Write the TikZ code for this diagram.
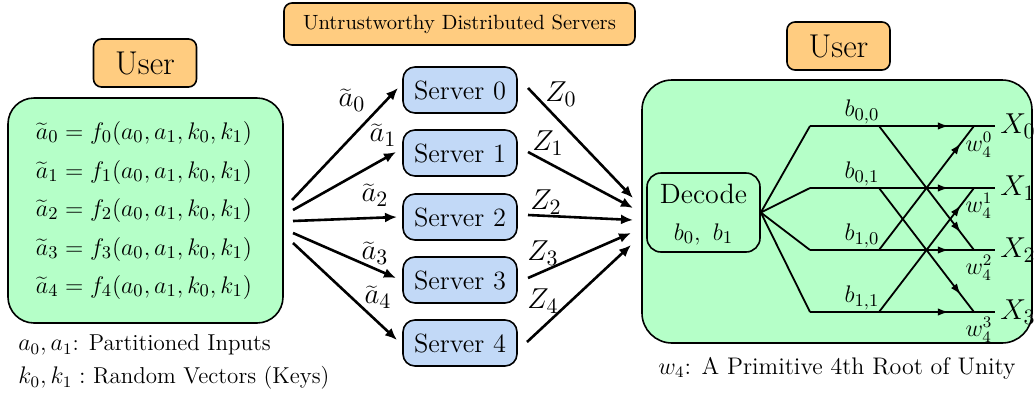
\documentclass[tikz,border=0pt]{standalone}
\usetikzlibrary{arrows.meta,decorations.markings}
\definecolor{uorange}{HTML}{FFCC80}
\definecolor{ugreen}{HTML}{B5FFC8}
\definecolor{ublue}{HTML}{C2D9F7}
\begin{document}
\begin{tikzpicture}[x=0.5pt,y=-0.5pt,
  userbox/.style={draw, fill=uorange, rounded corners=4pt, line width=0.8pt, minimum width=51.5pt, minimum height=24pt, inner sep=0pt, font=\fontsize{16.5}{19}\selectfont},
  titlebox/.style={draw, fill=uorange, rounded corners=4pt, line width=0.8pt, minimum width=175.5pt, minimum height=21pt, inner sep=0pt, font=\fontsize{10.3}{12}\selectfont},
  greenbox/.style={draw, fill=ugreen, line width=0.8pt, inner sep=0pt},
  srvbox/.style={draw, fill=ublue, rounded corners=6pt, line width=0.8pt, minimum width=57pt, minimum height=23pt, inner sep=0pt, font=\fontsize{13.2}{15}\selectfont},
  eqtext/.style={font=\fontsize{13}{15}\selectfont, inner sep=0pt},
  lbl/.style={font=\fontsize{13}{15}\selectfont, inner sep=0pt},
  biglbl/.style={font=\fontsize{15.5}{18}\selectfont, inner sep=0pt},
  note/.style={font=\fontsize{11.5}{14}\selectfont, inner sep=0pt},
  arr/.style={-{Latex[length=6pt,width=5pt]}, line width=1.3pt},
  bline/.style={line width=0.9pt},
  midarrow/.style={postaction={decorate}, decoration={markings, mark=at position #1 with {\arrow{Latex[length=5.5pt,width=3.8pt]}}}}
]
\useasboundingbox (0,0) rectangle (1035,398);

% left user side
\node[userbox] (user1) at (145,63) {User};
\node[greenbox, rounded corners=13pt, minimum width=137.5pt, minimum height=112.5pt] (inbox) at (145.5,210.5) {};
\node[eqtext] (eq0) at (144,133) {$\widetilde{a}_0 = f_0(a_0,a_1,k_0,k_1)$};
\node[eqtext] (eq1) at (144,172) {$\widetilde{a}_1 = f_1(a_0,a_1,k_0,k_1)$};
\node[eqtext] (eq2) at (144,210) {$\widetilde{a}_2 = f_2(a_0,a_1,k_0,k_1)$};
\node[eqtext] (eq3) at (144,249) {$\widetilde{a}_3 = f_3(a_0,a_1,k_0,k_1)$};
\node[eqtext] (eq4) at (144,287) {$\widetilde{a}_4 = f_4(a_0,a_1,k_0,k_1)$};
\node[note, anchor=west] (n1) at (18,345) {$a_0,a_1$: Partitioned Inputs};
\node[note, anchor=west] (n2) at (18,378) {$k_0,k_1:$ Random Vectors (Keys)};

% servers
\node[titlebox] (title) at (459.5,24) {Untrustworthy Distributed Servers};
\node[srvbox] (srv0) at (460,90) {Server 0};
\node[srvbox] (srv1) at (460,153) {Server 1};
\node[srvbox] (srv2) at (460,217) {Server 2};
\node[srvbox] (srv3) at (460,280) {Server 3};
\node[srvbox] (srv4) at (460,343) {Server 4};

\coordinate (s0) at (292,200);
\coordinate (s1) at (293,210);
\coordinate (s2) at (293,221);
\coordinate (s3) at (293,233);
\coordinate (s4) at (293,243);
\coordinate (t0) at (398,88);
\coordinate (t1) at (396,152);
\coordinate (t2) at (397,217);
\coordinate (t3) at (396,278);
\coordinate (t4) at (397,340);
\draw[arr] (s0) -- (t0);
\draw[arr] (s1) -- (t1);
\draw[arr] (s2) -- (t2);
\draw[arr] (s3) -- (t3);
\draw[arr] (s4) -- (t4);
\node[biglbl] (la0) at (352,100) {$\widetilde{a}_0$};
\node[biglbl] (la1) at (383,135) {$\widetilde{a}_1$};
\node[biglbl] (la2) at (375,195) {$\widetilde{a}_2$};
\node[biglbl] (la3) at (375,253) {$\widetilde{a}_3$};
\node[biglbl] (la4) at (378,297) {$\widetilde{a}_4$};

\coordinate (z0) at (528,88);
\coordinate (z1) at (528,152);
\coordinate (z2) at (528,215);
\coordinate (z3) at (528,278);
\coordinate (z4) at (527,342);
\coordinate (e0) at (633,198);
\coordinate (e1) at (633,208);
\coordinate (e2) at (633,220);
\coordinate (e3) at (631,233);
\coordinate (e4) at (631,245);
\draw[arr] (z0) -- (e0);
\draw[arr] (z1) -- (e1);
\draw[arr] (z2) -- (e2);
\draw[arr] (z3) -- (e3);
\draw[arr] (z4) -- (e4);
\node[biglbl] (lz0) at (561,94) {$Z_0$};
\node[biglbl] (lz1) at (548,143) {$Z_1$};
\node[biglbl] (lz2) at (546,202) {$Z_2$};
\node[biglbl] (lz3) at (543,253) {$Z_3$};
\node[biglbl] (lz4) at (543,301) {$Z_4$};

% right user side
\node[userbox] (user2) at (838.5,46) {User};
\node[greenbox, rounded corners=15pt, minimum width=195pt, minimum height=131.5pt] (outbox) at (837,211.5) {};
\node[draw, fill=ugreen, rounded corners=7pt, line width=0.8pt, minimum width=56.5pt, minimum height=39.5pt, inner sep=0pt] (dec) at (703.5,212.5) {};
\node[font=\fontsize{14}{16}\selectfont, inner sep=0pt] (dect) at (703.5,194) {Decode};
\node[lbl] (decb) at (703.5,234) {$b_0,\ b_1$};

\foreach \i/\y in {0/126,1/188,2/250,3/312}{
  \coordinate (L\i) at (810,\y);
  \coordinate (C\i) at (879,\y);
  \coordinate (E\i) at (974,\y);
  \coordinate (R\i) at (995,\y);
}
\foreach \i in {0,1,2,3}{
  \draw[bline] (dec.east) -- (L\i);
  \draw[bline, midarrow=0.75] (L\i) -- (R\i);
}
\draw[bline, midarrow=0.86] (C0) -- (E2);
\draw[bline, midarrow=0.86] (C2) -- (E0);
\draw[bline, midarrow=0.86] (C1) -- (E3);
\draw[bline, midarrow=0.86] (C3) -- (E1);

\node[lbl] (b00) at (862,112) {$b_{0,0}$};
\node[lbl] (b01) at (862,174) {$b_{0,1}$};
\node[lbl] (b10) at (862,236) {$b_{1,0}$};
\node[lbl] (b11) at (862,298) {$b_{1,1}$};
\node[biglbl] (X0) at (1018,126) {$X_0$};
\node[biglbl] (X1) at (1018,188) {$X_1$};
\node[biglbl] (X2) at (1018,250) {$X_2$};
\node[biglbl] (X3) at (1018,312) {$X_3$};
\node[lbl, font=\fontsize{12}{14}\selectfont] (w0) at (979,145) {$w_4^0$};
\node[lbl, font=\fontsize{12}{14}\selectfont] (w1) at (979,206) {$w_4^1$};
\node[lbl, font=\fontsize{12}{14}\selectfont] (w2) at (979,268) {$w_4^2$};
\node[lbl, font=\fontsize{12}{14}\selectfont] (w3) at (979,330) {$w_4^3$};
\node[lbl, font=\fontsize{12}{14}\selectfont] (n3) at (837,368) {$w_4$: A Primitive 4th Root of Unity};
\end{tikzpicture}
\end{document}
